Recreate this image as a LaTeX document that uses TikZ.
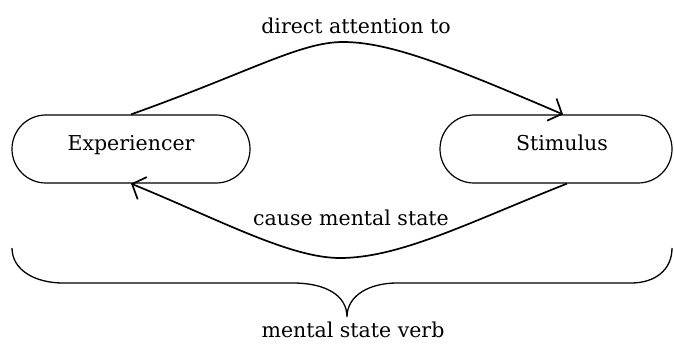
\documentclass[tikz,border=0pt]{standalone}
\usepackage{fontspec}
\setmainfont{DejaVu Serif}
\usetikzlibrary{arrows.meta}
\begin{document}
\begin{tikzpicture}[x=1pt,y=-1pt,
  rolebox/.style={draw, line width=1.2pt, rounded corners=33.9pt, minimum height=68pt, inner sep=0pt, text height=10pt, text depth=8pt, font=\fontsize{20.5}{24}\selectfont},
  rel/.style={line width=1.7pt, -{Straight Barb[length=11pt,width=24pt]}},
  bracepath/.style={line width=1.3pt},
  lbl/.style={font=\fontsize{20.5}{24}\selectfont, anchor=base, inner sep=0pt}]
\useasboundingbox (0,0) rectangle (674,343);
\node[rolebox, minimum width=238pt] (exp) at (131,149) {Experiencer};
\node[rolebox, minimum width=232pt] (stim) at (556,149) {\hspace*{12pt}Stimulus};
\draw[rel] (exp.north) .. controls (250,72) and (300,42) .. (343,42)
  .. controls (390,42) and (450,66) .. ([xshift=7pt]stim.north);
\draw[rel] ([xshift=11pt]stim.south) .. controls (470,222) and (400,258) .. (340,258)
  .. controls (290,258) and (220,220) .. (exp.south);
\node[lbl] (top) at (356,33) {direct attention to};
\node[lbl] (mid) at (351,225) {cause mental state};
\coordinate (tip) at (347,317);
\draw[bracepath] (12,248) .. controls (12,270) and (35,283) .. (63,283) -- (293,283)
  .. controls (325,283) and (347,295) .. (tip)
  .. controls (347,295) and (370,283) .. (397,283) -- (631,283)
  .. controls (655,283) and (672,270) .. (672,248);
\node[lbl] (verb) at (353,337) {mental state verb};
\end{tikzpicture}
\end{document}
